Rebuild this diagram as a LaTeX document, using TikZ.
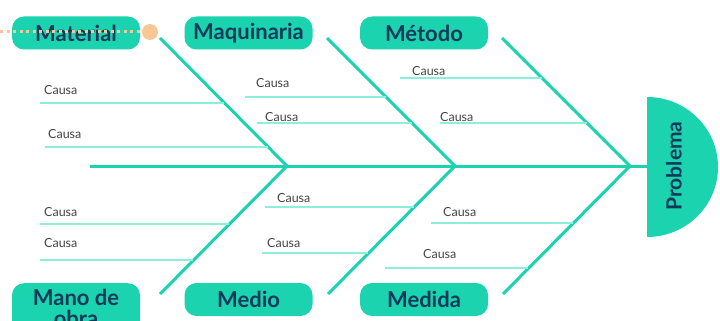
\documentclass[tikz,border=0pt]{standalone}
\usepackage{fontspec}
\setmainfont{Lato}
\definecolor{teal1}{HTML}{1BD3AF}
\definecolor{teallight}{HTML}{8DEEDB}
\definecolor{navy}{HTML}{0F3A5A}
\definecolor{orng}{HTML}{F8C796}
\definecolor{causagray}{HTML}{444444}
\begin{document}
\begin{tikzpicture}[x=1pt,y=-1pt,
  catbox/.style={fill=teal1,rounded corners=12pt,minimum width=128pt,minimum height=33pt,inner sep=0pt,text=navy,font=\bfseries\fontsize{22}{22}\selectfont},
  bone/.style={draw=teal1,line width=3pt},
  causaline/.style={draw=teallight,line width=1.6pt},
  causa/.style={anchor=west,inner sep=0pt,text=causagray,font=\fontsize{12.5}{12.5}\selectfont}]
\useasboundingbox (0,0) rectangle (720,321);
\clip (0,0) rectangle (720,321);
% head
\fill[teal1] (647,97) arc[start angle=-90,end angle=90,x radius=71,y radius=70] -- cycle;
\node[rotate=90,text=navy,font=\bfseries\fontsize{21}{21}\selectfont,inner sep=0pt] (prob) at (674,166) {Problema};
\coordinate (head) at (647,166);
% spine
\coordinate (tail) at (90,166);
\coordinate (j1) at (287,166);
\coordinate (j2) at (455,166);
\coordinate (j3) at (630,166);
\draw[bone] (tail) -- (head);
% bone ends
\coordinate (t1) at (160,38);
\coordinate (t2) at (327,38);
\coordinate (t3) at (502,38);
\coordinate (b1) at (160,294);
\coordinate (b2) at (328,294);
\coordinate (b3) at (503,294);
\draw[bone] (t1) -- (j1) -- (b1);
\draw[bone] (t2) -- (j2) -- (b2);
\draw[bone] (t3) -- (j3) -- (b3);
% category boxes
\node[catbox] (mat) at (76,33) {Material};
\node[catbox] (maq) at (248.5,33) {Maquinaria};
\node[catbox] (met) at (424,33) {Método};
\node[catbox,minimum height=50pt,align=center,anchor=north,inner sep=4pt,font=\bfseries\fontsize{22}{21}\selectfont] (mano) at (76,283) {Mano de\\obra};
\node[catbox] (medio) at (248.5,299.5) {Medio};
\node[catbox] (medida) at (424,299.5) {Medida};
% orange dotted line
\node[circle,fill=orng,minimum size=16pt,inner sep=0pt] (dot) at (150,32) {};
\coordinate (dstart) at (0,32);
\draw[orng,line width=3pt,dash pattern=on 3pt off 3.5pt] (dstart) -- (dot.west);
% causes - top
\coordinate (c1s) at (40,103); \coordinate (c1e) at (224,103);
\coordinate (c2s) at (45,147); \coordinate (c2e) at (268,147);
\coordinate (c3s) at (245,97); \coordinate (c3e) at (386,97);
\coordinate (c4s) at (257,123); \coordinate (c4e) at (412,123);
\coordinate (c5s) at (400,78); \coordinate (c5e) at (542,78);
\coordinate (c6s) at (440,123); \coordinate (c6e) at (587,123);
% causes - bottom
\coordinate (c7s) at (40,224); \coordinate (c7e) at (229,224);
\coordinate (c8s) at (40,260); \coordinate (c8e) at (193,260);
\coordinate (c9s) at (265,207); \coordinate (c9e) at (414,207);
\coordinate (c10s) at (262,253); \coordinate (c10e) at (368,253);
\coordinate (c11s) at (431,223); \coordinate (c11e) at (573,223);
\coordinate (c12s) at (385,268); \coordinate (c12e) at (528,268);
\foreach \i in {1,...,12} {\draw[causaline] (c\i s) -- (c\i e);}
\node[causa] (k1) at (44,90) {Causa};
\node[causa] (k2) at (48,134) {Causa};
\node[causa] (k3) at (256,83) {Causa};
\node[causa] (k4) at (265,117) {Causa};
\node[causa] (k5) at (412,71) {Causa};
\node[causa] (k6) at (440,117) {Causa};
\node[causa] (k7) at (44,212) {Causa};
\node[causa] (k8) at (44,243) {Causa};
\node[causa] (k9) at (277,198) {Causa};
\node[causa] (k10) at (267,243) {Causa};
\node[causa] (k11) at (443,212) {Causa};
\node[causa] (k12) at (423,254) {Causa};
\end{tikzpicture}
\end{document}
